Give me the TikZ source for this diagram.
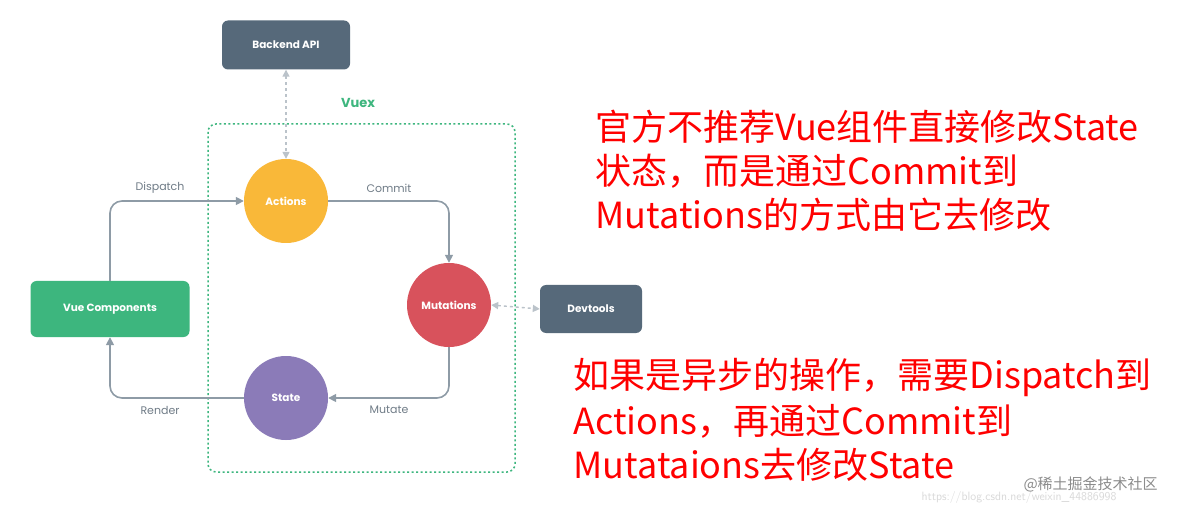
\documentclass[tikz,border=0pt]{standalone}
\usepackage{fontspec}
\setmainfont{Poppins}
\newfontfamily\cjk{Noto Sans CJK SC}
\usetikzlibrary{arrows.meta}
\definecolor{dark}{HTML}{56697A}
\definecolor{vgreen}{HTML}{3DB67E}
\definecolor{act}{HTML}{F9B839}
\definecolor{mut}{HTML}{D8525C}
\definecolor{sta}{HTML}{8B7BB8}
\definecolor{ln}{HTML}{8E9BA6}
\definecolor{lbl}{HTML}{707C87}
\begin{document}
\begin{tikzpicture}[x=1pt,y=-1pt,
  box/.style={rounded corners=6pt,text=white,font=\bfseries\fontsize{10.5}{13}\selectfont},
  circ/.style={circle,minimum size=84pt,inner sep=0pt,text=white,font=\bfseries\fontsize{10.5}{13}\selectfont},
  flow/.style={draw=ln,line width=1.6pt,rounded corners=12pt,-{Triangle[length=8pt,width=8pt]}},
  dotconn/.style={draw=ln!60,line width=1.4pt,dash pattern=on 3pt off 3pt,{Triangle[length=7pt,width=7pt]}-{Triangle[length=7pt,width=7pt]}},
  lab/.style={text=lbl,font=\fontsize{11}{13}\selectfont},
  red/.style={text=red,anchor=west,font=\cjk\fontsize{36}{40}\selectfont}]
\useasboundingbox (0,0) rectangle (1200,513);
\fill[white] (0,0) rectangle (1200,513);
\draw[vgreen,line width=1.5pt,dash pattern=on 2pt off 2.5pt,rounded corners=8pt] (208,124) rectangle (515,472);
\node[text=vgreen,font=\bfseries\fontsize{13}{16}\selectfont] (vuex) at (358,103) {Vuex};
\node[box,fill=dark,minimum width=128pt,minimum height=49pt] (api) at (286,45) {Backend API};
\node[box,fill=vgreen,minimum width=159pt,minimum height=56pt] (vc) at (110,309) {Vue Components};
\node[box,fill=dark,minimum width=102pt,minimum height=48pt] (dev) at (591,309) {Devtools};
\node[circ,fill=act] (act) at (286,201) {Actions};
\node[circ,fill=mut] (mut) at (449,305) {Mutations};
\node[circ,fill=sta] (st) at (286,398) {State};
\draw[flow] (vc.north) |- (act.west);
\draw[flow] (act.east) -| (mut.north);
\draw[flow] (mut.south) |- (st.east);
\draw[flow] (st.west) -| (vc.south);
\draw[dotconn] (api.south) -- (act.north);
\draw[dotconn] (mut.east) -- (dev.west);
\node[lab] (l1) at (160,188) {Dispatch};
\node[lab] (l2) at (389,188) {Commit};
\node[lab] (l3) at (389,410) {Mutate};
\node[lab] (l4) at (160,410) {Render};
\node[red] (t1) at (592,127) {官方不推荐Vue组件直接修改State};
\node[red] (t2) at (592,171) {状态，而是通过Commit到};
\node[red] (t3) at (592,215) {Mutations的方式由它去修改};
\node[red] (t4) at (570,377) {如果是异步的操作，需要Dispatch到};
\node[red] (t5) at (570,421) {Actions，再通过Commit到};
\node[red] (t6) at (570,465) {Mutataions去修改State};
\node[text=black!15,anchor=west,font=\fontsize{12}{14}\selectfont\sffamily] (w1) at (918,497) {https://blog.csdn.net/weixin\_44886998};
\node[text=black!45,anchor=west,font=\cjk\fontsize{15}{17}\selectfont] (w2) at (1020,484) {@稀土掘金技术社区};
\end{tikzpicture}
\end{document}
